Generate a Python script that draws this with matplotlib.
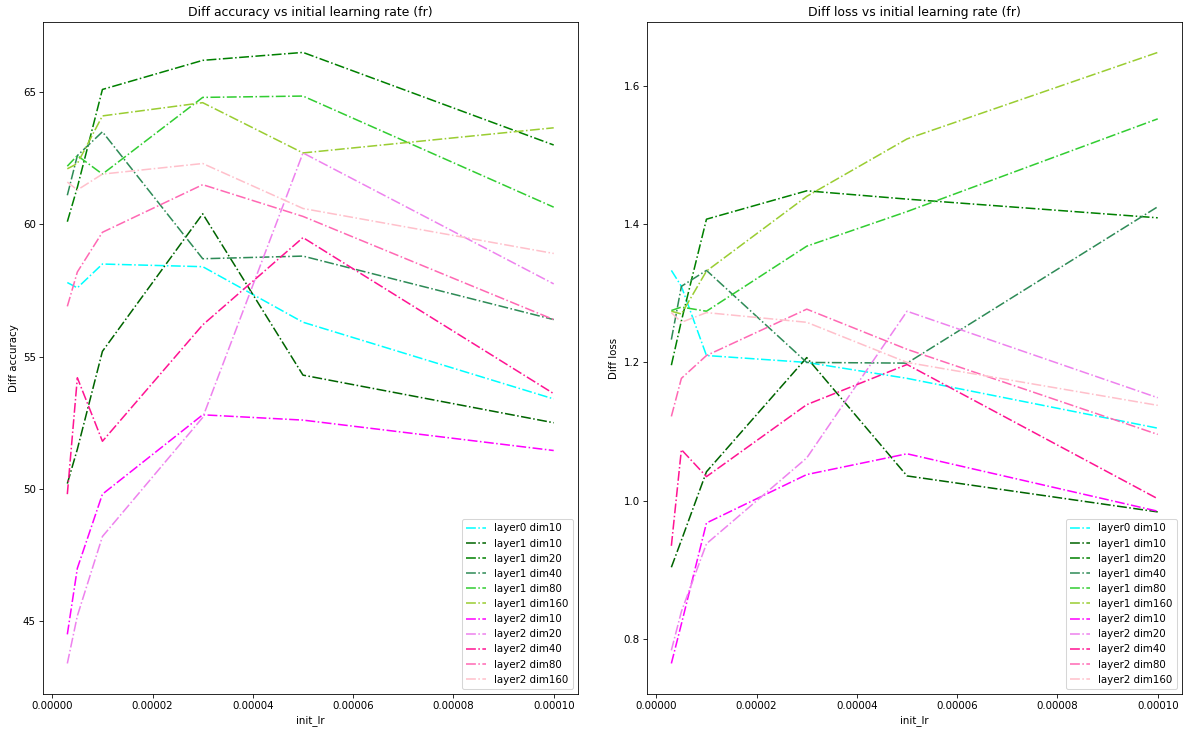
import matplotlib
matplotlib.use("Agg")
import matplotlib.pyplot as plt

init_lr = [3e-6, 5e-6, 1e-5, 3e-5, 5e-5, 1e-4]

labels = [
    "layer0 dim10",
    "layer1 dim10", "layer1 dim20", "layer1 dim40", "layer1 dim80", "layer1 dim160",
    "layer2 dim10", "layer2 dim20", "layer2 dim40", "layer2 dim80", "layer2 dim160",
]
colors = [
    "cyan",
    "darkgreen", "green", "seagreen", "limegreen", "yellowgreen",
    "magenta", "violet", "deeppink", "hotpink", "pink",
]

# Diff accuracy per configuration, one value per learning rate
acc_layer0_dim10 = [57.8, 57.6, 58.5, 58.4, 56.3, 53.4]
acc_layer1_dim10 = [50.2, 51.5, 55.2, 60.4, 54.3, 52.5]
acc_layer1_dim20 = [60.1, 61.4, 65.1, 66.2, 66.5, 63.0]
acc_layer1_dim40 = [61.1, 62.6, 63.5, 58.7, 58.8, 56.4]
acc_layer1_dim80 = [62.2, 62.6, 61.9, 64.8, 64.85, 60.65]
acc_layer1_dim160 = [62.1, 62.3, 64.1, 64.6, 62.7, 63.65]
acc_layer2_dim10 = [44.5, 47.0, 49.8, 52.8, 52.6, 51.45]
acc_layer2_dim20 = [43.4, 45.2, 48.2, 52.7, 62.7, 57.75]
acc_layer2_dim40 = [49.8, 54.2, 51.8, 56.2, 59.5, 53.6]
acc_layer2_dim80 = [56.9, 58.2, 59.7, 61.5, 60.3, 56.4]
acc_layer2_dim160 = [61.6, 61.3, 61.9, 62.3, 60.6, 58.9]

# Diff loss per configuration, one value per learning rate
loss_layer0_dim10 = [1.333, 1.31, 1.210, 1.200, 1.177, 1.105]
loss_layer1_dim10 = [0.904, 0.943, 1.042, 1.207, 1.036, 0.984]
loss_layer1_dim20 = [1.196, 1.26, 1.407, 1.448, 1.436, 1.409]
loss_layer1_dim40 = [1.233, 1.31, 1.333, 1.200, 1.199, 1.425]
loss_layer1_dim80 = [1.275, 1.28, 1.274, 1.368, 1.418, 1.552]
loss_layer1_dim160 = [1.274, 1.27, 1.332, 1.440, 1.523, 1.648]
loss_layer2_dim10 = [0.765, 0.822, 0.968, 1.038, 1.068, 0.985]
loss_layer2_dim20 = [0.784, 0.84, 0.938, 1.062, 1.274, 1.149]
loss_layer2_dim40 = [0.935, 1.074, 1.035, 1.139, 1.197, 1.003]
loss_layer2_dim80 = [1.122, 1.177, 1.210, 1.277, 1.219, 1.096]
loss_layer2_dim160 = [1.272, 1.258, 1.272, 1.258, 1.200, 1.138]

acc_series = [
    acc_layer0_dim10, acc_layer1_dim10, acc_layer1_dim20, acc_layer1_dim40,
    acc_layer1_dim80, acc_layer1_dim160, acc_layer2_dim10, acc_layer2_dim20,
    acc_layer2_dim40, acc_layer2_dim80, acc_layer2_dim160,
]
loss_series = [
    loss_layer0_dim10, loss_layer1_dim10, loss_layer1_dim20, loss_layer1_dim40,
    loss_layer1_dim80, loss_layer1_dim160, loss_layer2_dim10, loss_layer2_dim20,
    loss_layer2_dim40, loss_layer2_dim80, loss_layer2_dim160,
]

DPI = 74
fig, (ax1, ax2) = plt.subplots(1, 2, figsize=(1188 / DPI, 729 / DPI), dpi=DPI)
fig.subplots_adjust(left=0.0362, right=0.995, top=0.970, bottom=0.048, wspace=0.129)

for vals, lab, col in zip(acc_series, labels, colors):
    ax1.plot(init_lr, vals, linestyle="-.", color=col, label=lab)
ax1.set_title("Diff accuracy vs initial learning rate (fr)")
ax1.set_xlabel("init_lr")
ax1.set_ylabel("Diff accuracy")
ax1.set_yticks([45, 50, 55, 60, 65])
ax1.legend(loc="lower right")

for vals, lab, col in zip(loss_series, labels, colors):
    ax2.plot(init_lr, vals, linestyle="-.", color=col, label=lab)
ax2.set_title("Diff loss vs initial learning rate (fr)")
ax2.set_xlabel("init_lr")
ax2.set_ylabel("Diff loss")
ax2.set_yticks([0.8, 1.0, 1.2, 1.4, 1.6])
ax2.legend(loc="lower right")

for ax in (ax1, ax2):
    ax.set_xticks([0, 2e-5, 4e-5, 6e-5, 8e-5, 1e-4])
    ax.set_xticklabels(["0.00000", "0.00002", "0.00004", "0.00006", "0.00008", "0.00010"])

fig.savefig("out.png", dpi=DPI)
